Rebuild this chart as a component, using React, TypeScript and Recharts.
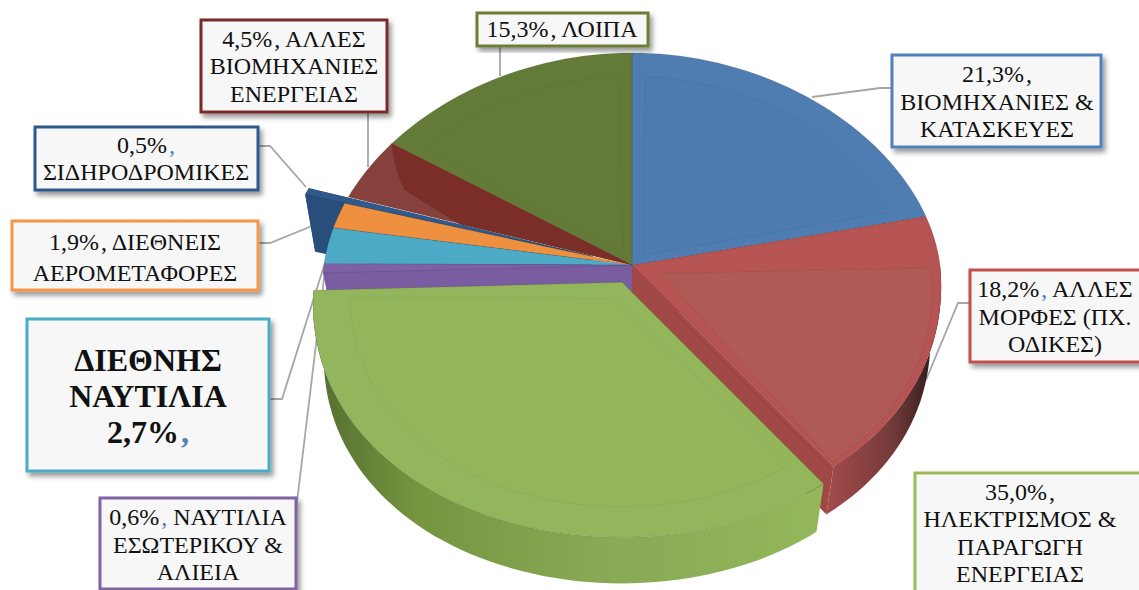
import React from "react";
import { PieChart, Pie, Customized } from "recharts";

// Slices run counter-clockwise from the red/green boundary so the painter order
// leaves the exploded green wedge on top of its neighbours.
const categories = [
  "Άλλες μορφές",
  "Βιομηχανίες & κατασκευές",
  "Λοιπά",
  "Άλλες βιομηχανίες ενέργειας",
  "Σιδηροδρομικές",
  "Διεθνείς αερομεταφορές",
  "Διεθνής ναυτιλία",
  "Ναυτιλία εσωτερικού & αλιεία",
  "Ηλεκτρισμός & παραγωγή ενέργειας",
];
const shares = [18.2, 21.3, 15.3, 4.5, 0.5, 1.9, 2.7, 0.6, 35.0];
const topColors = ["#b55452", "#4f7cb1", "#647a39", "#87413d", "#2f5a8b", "#ee9040", "#4caac7", "#7e60a4", "#93b55b"];
const innerColors = ["#af5a56", "#4e7bb0", "#647a38", "#7a2e27", "#2f5a8b", "#ee9040", "#4caac7", "#7e60a4", "#93b65b"];
const wallColors = ["#a14745", "#3f6796", "#4e602c", "#6b2b27", "#2a4e7b", "#c8762e", "#3c8ba5", "#7a5da0", "#7e9e4a"];
const explodes = [0, 0, 0, 0, 0.135, 0, 0, 0, 0.075];
const radialWalls = [true, false, false, false, true, false, false, true, false];

// "%v" stands for the slice's share, "~" tints the comma that follows it
const labelLines = [
  ["%v~, ΑΛΛΕΣ", "ΜΟΡΦΕΣ (ΠΧ.", "ΟΔΙΚΕΣ)"],
  ["%v,", "ΒΙΟΜΗΧΑΝΙΕΣ &", "ΚΑΤΑΣΚΕΥΕΣ"],
  ["%v, ΛΟΙΠΑ"],
  ["%v, ΑΛΛΕΣ", "ΒΙΟΜΗΧΑΝΙΕΣ", "ΕΝΕΡΓΕΙΑΣ"],
  ["%v~,", "ΣΙΔΗΡΟΔΡΟΜΙΚΕΣ"],
  ["%v, ΔΙΕΘΝΕΙΣ", "ΑΕΡΟΜΕΤΑΦΟΡΕΣ"],
  ["ΔΙΕΘΝΗΣ", "ΝΑΥΤΙΛΙΑ", "%v~,"],
  ["%v~, ΝΑΥΤΙΛΙΑ", "ΕΣΩΤΕΡΙΚΟΥ &", "ΑΛΙΕΙΑ"],
  ["%v,", "ΗΛΕΚΤΡΙΣΜΟΣ &", "ΠΑΡΑΓΩΓΗ", "ΕΝΕΡΓΕΙΑΣ"],
];

const tableData = categories.map((name, i) => ({
  name,
  value: shares[i],
  slot: i,
}));

// callout boxes: x, y, w, h, first baseline, line step, font size, text centre
const boxes = [
  { x: 970, y: 270, w: 175, h: 92, base: 297, step: 27.5, size: 24, tx: 1055 },
  { x: 892, y: 55, w: 209, h: 92, base: 82, step: 27.5, size: 24, tx: 997 },
  { x: 477, y: 13, w: 171, h: 33, base: 37, step: 27, size: 24, tx: 562 },
  { x: 201, y: 20, w: 186, h: 92, base: 47, step: 27.3, size: 24, tx: 294 },
  { x: 35, y: 127, w: 223, h: 63, base: 153, step: 27, size: 24, tx: 146 },
  { x: 12, y: 221, w: 246, h: 69, base: 250, step: 31, size: 24, tx: 135 },
  { x: 27, y: 319, w: 242, h: 152, base: 371, step: 36, size: 32, tx: 148, bold: true },
  { x: 100, y: 498, w: 196, h: 91, base: 525, step: 27.5, size: 24, tx: 198 },
  { x: 915, y: 473, w: 236, h: 130, base: 500, step: 27.4, size: 24, tx: 1020 },
];

// leader lines from each box to its slice
const leaders = [
  "970,303 958,303 926,380",
  "892,88 880,88 812,97",
  "500,46 500,76",
  "368,112 368,167",
  "258,146 270,146 306,187",
  "258,243 270,243 339,215",
  "269,399 282,399 330,247",
  "296,510 325,270",
];

const borderColors = ["#c0504d", "#4f81bd", "#6a7f35", "#7a2c2a", "#2f5a8b", "#f79646", "#4bacc6", "#8064a2", "#9bbb59"];

// inset face on each wedge: angle insets a/b, radius at each end, apex pull,
// optional point on the leading edge, outline strength
const bevels = [
  { a: 14, b: 0.5, rA: 0.97, rB: 0.985, apex: 0.1, edge: 0, line: 0.06 },
  { a: 3, b: 3, rA: 0.89, rB: 0.89, apex: 0.06, edge: 0, line: 0.04 },
  { a: 3, b: 3, rA: 0.89, rB: 0.89, apex: 0.06, edge: 0, line: 0.04 },
  { a: 6.3, b: 0, rA: 0.84, rB: 1, apex: 0, edge: 0.6, line: 0.04 },
  null,
  null,
  null,
  null,
  { a: 2, b: 2, rA: 0.88, rB: 0.88, apex: 0.07, edge: 0, line: 0.04 },
];

const CX = 632;
const CY = 265;
const RX = 308;
const RY_BACK = 212;
const RY_FRONT = 255;
const PERSPECTIVE = 0.085;
const DEPTH = 55;
const BOTTOM_SCALE = 0.965;

const rad = (deg: number) => (deg * Math.PI) / 180;

// t is measured clockwise from 12 o'clock, r is a fraction of the radius
function rim(t: number, r = 1) {
  const s = Math.sin(rad(t));
  const c = Math.cos(rad(t));
  return {
    x: RX * r * s * (1 - PERSPECTIVE * r * c),
    y: -(c > 0 ? RY_BACK : RY_FRONT) * r * c,
  };
}

type Pt = { x: number; y: number };

const lower = (p: Pt) => ({ x: p.x * BOTTOM_SCALE, y: p.y * BOTTOM_SCALE + DEPTH });

function arcPts(t0: number, t1: number, r0 = 1, r1 = r0) {
  const n = Math.max(2, Math.ceil((t1 - t0) / 2));
  const out: Pt[] = [];
  for (let i = 0; i <= n; i++) {
    const f = i / n;
    out.push(rim(t0 + (t1 - t0) * f, r0 + (r1 - r0) * f));
  }
  return out;
}

const toPath = (pts: Pt[], ox: number, oy: number) =>
  "M" + pts.map((p) => `${(p.x + ox).toFixed(1)},${(p.y + oy).toFixed(1)}`).join("L") + "Z";

function Slice3D(props: any) {
  const i: number = props.slot ?? props.payload?.slot ?? 0;
  const t1Raw = 90 - props.startAngle;
  const t0Raw = 90 - props.endAngle;
  const shift = t0Raw < 0 ? 360 : 0;
  const t0 = t0Raw + shift;
  const t1 = t1Raw + shift;
  const mid = (t0 + t1) / 2;
  const off = explodes[i] ? rim(mid, explodes[i]) : { x: 0, y: 0 };
  const ox = CX + off.x;
  const oy = CY + off.y;

  const top = [{ x: 0, y: 0 }, ...arcPts(t0, t1)];

  // outer wall: only the front half shows, unless the wedge is pulled out
  const wallFrom = explodes[i] ? t0 : Math.max(t0, 90);
  const wallTo = explodes[i] ? t1 : Math.min(t1, 270);
  let wall: Pt[] | null = null;
  if (wallTo > wallFrom) {
    const arc = arcPts(wallFrom, wallTo);
    wall = [...arc, ...arc.map(lower).reverse()];
  }

  const apexLow = lower({ x: 0, y: 0 });
  const cut = (t: number) => [{ x: 0, y: 0 }, rim(t), lower(rim(t)), apexLow];

  const bevel = bevels[i];
  const inner = bevel
    ? [
        rim(mid, bevel.apex),
        ...(bevel.edge ? [rim(t0, bevel.edge)] : []),
        ...arcPts(t0 + bevel.a, t1 - bevel.b, bevel.rA, bevel.rB),
      ]
    : null;

  return (
    <g>
      {i === 0 && (
        <defs>
          <linearGradient id="wall-0" gradientUnits="userSpaceOnUse" x1="830" y1="0" x2="935" y2="0">
            <stop offset="0" stopColor="#a14b4a" />
            <stop offset="0.6" stopColor="#74393a" />
            <stop offset="1" stopColor="#2c1c1c" />
          </linearGradient>
        </defs>
      )}
      {i === 8 && (
        <defs>
          <linearGradient id="wall-8" gradientUnits="userSpaceOnUse" x1="318" y1="0" x2="820" y2="0">
            <stop offset="0" stopColor="#556f30" />
            <stop offset="0.2" stopColor="#76953f" />
            <stop offset="0.55" stopColor="#88a855" />
            <stop offset="1" stopColor="#93b75a" />
          </linearGradient>
        </defs>
      )}
      {radialWalls[i] && (
        <>
          <path d={toPath(cut(t0), ox, oy)} fill={wallColors[i]} />
          <path d={toPath(cut(t1), ox, oy)} fill={wallColors[i]} />
        </>
      )}
      {wall && (
        <path d={toPath(wall, ox, oy)} fill={i === 0 || i === 8 ? `url(#wall-${i})` : wallColors[i]} />
      )}
      <path d={toPath(top, ox, oy)} fill={topColors[i]} stroke="#000" strokeOpacity={0.12} strokeWidth={0.8} />
      {inner && bevel && (
        <path
          d={toPath(inner, ox, oy)}
          fill={innerColors[i]}
          stroke="#000"
          strokeOpacity={bevel.line}
          strokeWidth={1}
        />
      )}
    </g>
  );
}

function renderLine(line: string, value: number) {
  const pct = `${value.toFixed(1).replace(".", ",")}%`;
  if (!line.includes("%v")) return line;
  const rest = line.replace("%v", "");
  if (rest.startsWith("~,")) {
    return (
      <>
        {pct}
        <tspan fill="#4f81bd" dx={2}>,</tspan>
        {rest.slice(2)}
      </>
    );
  }
  return (
    <>
      {pct}
      <tspan dx={2}>,</tspan>
      {rest.slice(1)}
    </>
  );
}

function Callouts() {
  return (
    <g fontFamily="'Liberation Serif', 'Times New Roman', serif" fill="#111">
      <defs>
        <filter id="boxShadow" x="-10%" y="-10%" width="125%" height="130%">
          <feDropShadow dx="3" dy="4" stdDeviation="2.5" floodColor="#000" floodOpacity="0.4" />
        </filter>
      </defs>
      {leaders.map((pts, i) => (
        <polyline key={i} points={pts} fill="none" stroke="#a6a6a6" strokeWidth={1.8} />
      ))}
      {boxes.map((b, i) => (
        <g key={categories[i]}>
          <rect
            x={b.x}
            y={b.y}
            width={b.w}
            height={b.h}
            fill="#f7f7f7"
            stroke={borderColors[i]}
            strokeWidth={3}
            filter="url(#boxShadow)"
          />
          <text textAnchor="middle" fontSize={b.size} fontWeight={b.bold ? 700 : 400}>
            {labelLines[i].map((line, j) => (
              <tspan key={j} x={b.tx} y={b.base + j * b.step}>
                {renderLine(line, shares[i])}
              </tspan>
            ))}
          </text>
        </g>
      ))}
    </g>
  );
}

export default function App() {
  return (
    <div style={{ position: "absolute", left: 0, top: 0, width: 1139, height: 590, overflow: "hidden", background: "#fff" }}>
      <PieChart width={1139} height={590} margin={{ top: 0, right: 0, bottom: 0, left: 0 }}>
        <Pie
          data={tableData}
          dataKey="value"
          nameKey="name"
          cx={CX}
          cy={CY}
          outerRadius={RX}
          startAngle={-52.2}
          endAngle={307.8}
          stroke="none"
          labelLine={false}
          isAnimationActive={false}
          shape={Slice3D}
        />
        <Customized component={Callouts} />
      </PieChart>
    </div>
  );
}
